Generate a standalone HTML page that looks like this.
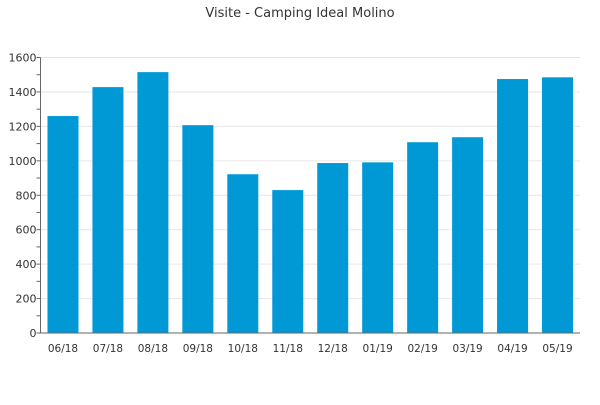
<!DOCTYPE html>
<html><head><meta charset="utf-8"><style>
body{margin:0;background:#fff;}
svg text{font-family:"DejaVu Sans","Liberation Sans",sans-serif;fill:#333;}
</style></head><body>
<svg id="chart" width="600" height="400" xmlns="http://www.w3.org/2000/svg">
<text x="300" y="17" text-anchor="middle" font-size="13">Visite - Camping Ideal Molino</text>
<g id="grid"></g><g id="bars"></g><g id="axes"></g>
</svg>
<script>
const categories=["06/18","07/18","08/18","09/18","10/18","11/18","12/18","01/19","02/19","03/19","04/19","05/19"];
const visits=[1260,1428,1515,1207,922,830,987,991,1108,1137,1475,1485];
const yTicks=[0,200,400,600,800,1000,1200,1400,1600];
const NS="http://www.w3.org/2000/svg";
const L=40.5,R=580,T=57.5,B=333,YMAX=1600;
const y=v=>B-(v/YMAX)*(B-T);
const bw=(R-L)/categories.length;
const x=i=>L+bw*(i+0.5);
function mk(t,a,p){const e=document.createElementNS(NS,t);for(const k in a)e.setAttribute(k,a[k]);p.appendChild(e);return e;}
const grid=document.getElementById('grid'),bars=document.getElementById('bars'),axes=document.getElementById('axes');
yTicks.forEach(v=>{
 const g=mk('line',{x1:L,x2:R,y1:y(v),y2:y(v),stroke:'#e6e6e6','stroke-width':1},grid);
 
 
 const t=mk('text',{x:L-4,y:y(v)+4,'text-anchor':'end','font-size':11},axes);
 t.textContent=v;
 
 
});
for(let v=0;v<=YMAX;v+=100){mk('line',{x1:L-4,x2:L,y1:y(v),y2:y(v),stroke:'#666'},axes);}
visits.forEach((v,i)=>{
 const r=mk('rect',{x:x(i)-15.5,y:y(v),width:31,height:B-y(v),fill:'#0099d6'},bars);
 
 
 const t=mk('text',{x:x(i),y:B+19,'text-anchor':'middle','font-size':10.5},axes);
 t.textContent=categories[i];
 
 
});
const ya=mk('line',{x1:L,x2:L,y1:T,y2:B,stroke:'#666'},axes);


const xa=mk('line',{x1:L-4,x2:R,y1:B,y2:B,stroke:'#666'},axes);


</script>
</body></html>
